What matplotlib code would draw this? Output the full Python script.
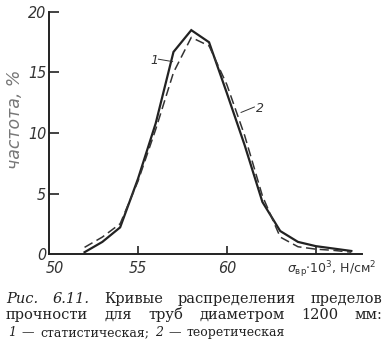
import matplotlib
matplotlib.use('Agg')
import matplotlib.pyplot as plt
import matplotlib.transforms as mtransforms

# частота, % в зависимости от предела прочности (x10^3 Н/см2)
sigma = [52, 53, 54, 55, 56, 57, 58, 59, 60, 61, 62, 63, 64, 65, 66, 67]
freq_stat = [0.15, 1.0, 2.2, 6.2, 10.8, 16.7, 18.5, 17.5, 13.3, 9.0, 4.3, 1.9, 1.0, 0.65, 0.45, 0.25]
freq_theor = [0.55, 1.4, 2.5, 6.0, 10.3, 15.0, 17.9, 17.2, 14.0, 9.8, 4.8, 1.4, 0.6, 0.4, 0.3, 0.15]

y_ticks = [0, 5, 10, 15, 20]
x_ticks = [50, 55, 60, 65]
x_tick_labels = ['50', '55', '60', '']

W, H = 386, 361
fig = plt.figure(figsize=(W / 100, H / 100), dpi=100)
ax = fig.add_axes([49 / W, 1 - 254 / H, (362 - 49) / W, (254 - 12) / H])

ax.plot(sigma, freq_stat, color='#222222', lw=1.6, solid_joinstyle='miter')
ln, = ax.plot(sigma, freq_theor, color='#333333', lw=1.1)
ln.set_dashes((6, 3))

ax.set_xlim(50, 67.6)
ax.set_ylim(0, 20)
for s in ['top', 'right']:
    ax.spines[s].set_visible(False)
for s in ['left', 'bottom']:
    ax.spines[s].set_linewidth(1.4)
    ax.spines[s].set_color('#222222')

tick_font = dict(family='DejaVu Sans', style='italic', size=11.5, color='#333333',
                 stretch='condensed')
ax.set_yticks(y_ticks)
ax.set_yticklabels([str(v) for v in y_ticks], **tick_font)
ax.set_xticks(x_ticks)
ax.set_xticklabels(x_tick_labels, **tick_font)
ax.tick_params(axis='y', direction='in', length=7, width=1.2, pad=2, color='#222222')
ax.tick_params(axis='x', direction='in', length=6, width=1.2, pad=5, color='#222222')
ax.xaxis.get_major_ticks()[0].tick1line.set_visible(False)
ax.yaxis.get_major_ticks()[0].tick1line.set_visible(False)
# "50" сдвинута вправо от оси
lbl50 = ax.get_xticklabels()[0]
lbl50.set_transform(lbl50.get_transform() +
                    mtransforms.ScaledTranslation(6 / 100, 0, fig.dpi_scale_trans))

# подписи кривых
ax.text(55.9, 16.0, '1', style='italic', fontsize=9, ha='center', va='center', color='#333333')
ax.plot([56.15, 56.95], [16.1, 15.9], color='#333333', lw=0.7)
ax.text(61.85, 12.0, '2', style='italic', fontsize=9, ha='center', va='center', color='#333333')
ax.plot([60.8, 61.55], [11.7, 12.15], color='#333333', lw=0.7)

fig.text(15 / W, 1 - 119 / H, 'частота, %', rotation=90, style='italic', fontsize=12.5,
         color='#777777', ha='center', va='center')
fig.text(287 / W, 1 - 270 / H, r'$\sigma_{\mathrm{вр}}$$\cdot10^3$, Н/см$^2$', fontsize=9,
         color='#333333', ha='left', va='center')

# подпись рисунка
renderer = fig.canvas.get_renderer()


def justify(words, x0, x1, y, size):
    texts = []
    for w, st in words:
        texts.append(fig.text(0, y, w, family='DejaVu Serif', style=st, fontsize=size,
                              color='#222222', ha='left', va='baseline'))
    widths = [t.get_window_extent(renderer).width for t in texts]
    gap = (x1 - x0 - sum(widths)) / (len(texts) - 1)
    x = x0
    for t, w in zip(texts, widths):
        t.set_x(x / W)
        x += w + gap


justify([('Рис.', 'italic'), ('6.11.', 'italic'), ('Кривые', 'normal'),
         ('распределения', 'normal'), ('пределов', 'normal')], 6, 382, 1 - 303 / H, 10.5)
justify([('прочности', 'normal'), ('для', 'normal'), ('труб', 'normal'),
         ('диаметром', 'normal'), ('1200', 'normal'), ('мм:', 'normal')], 6, 382, 1 - 319 / H, 10.5)
justify([('1', 'italic'), ('—', 'normal'), ('статистическая;', 'normal'), ('2', 'italic'),
         ('—', 'normal'), ('теоретическая', 'normal')], 8, 285, 1 - 336 / H, 9)

fig.savefig('out.png', dpi=100, facecolor='white')
